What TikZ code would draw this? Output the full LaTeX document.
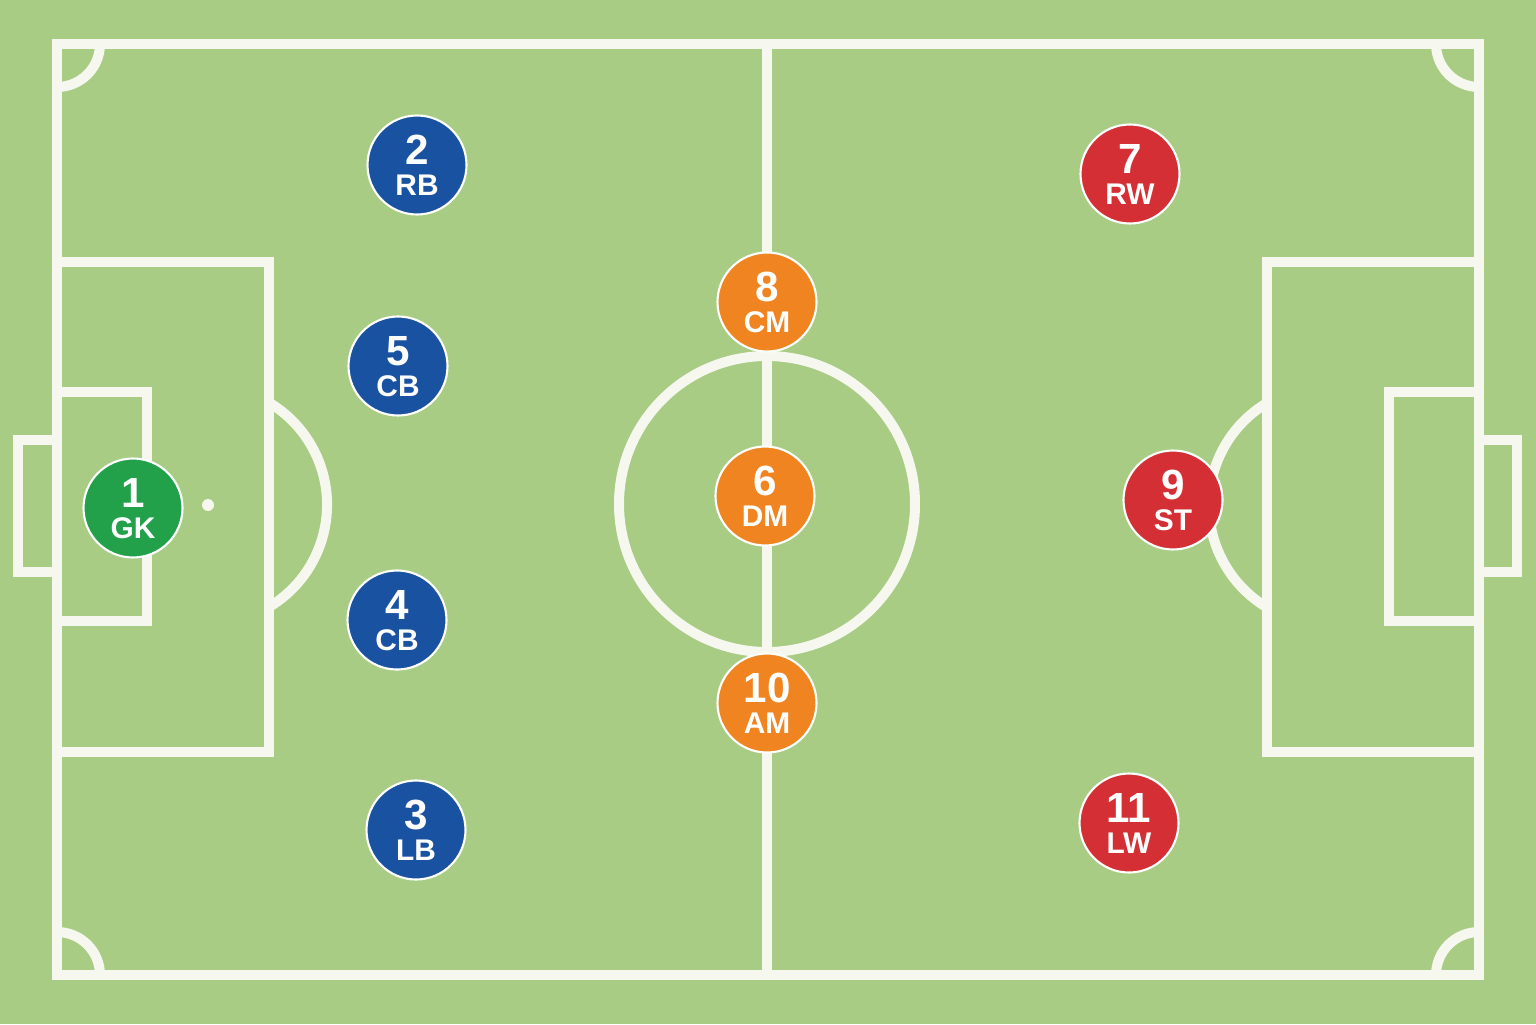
\documentclass[tikz,border=0pt]{standalone}
\usepackage{fontspec}
\setsansfont{Liberation Sans}
\usepackage{tikz}
\usetikzlibrary{positioning}
\usepackage{xcolor}
\definecolor{grass}{RGB}{168,204,132}
\definecolor{chalk}{RGB}{246,248,239}
\definecolor{keeper}{RGB}{34,160,74}
\definecolor{defblue}{RGB}{26,82,162}
\definecolor{midorange}{RGB}{240,132,32}
\definecolor{fwdred}{RGB}{212,47,52}

% one player: name, position, number, role, colour
\newcommand{\player}[5]{%
  \node[player,fill=#5] (#1) at (#2) {};
  \node[numtext] (#1-num) at ([yshift=0.15cm]#1.center) {#3};
  \node[roletext] (#1-role) at ([yshift=-0.20cm]#1.center) {#4};
}

\begin{document}
\begin{tikzpicture}[
    pitchline/.style={chalk,line width=0.1cm},
    player/.style={circle,draw=white,line width=0.6pt,minimum size=0.99cm,inner sep=0pt},
    numtext/.style={text=white,inner sep=0pt,font=\sffamily\bfseries\fontsize{12}{14}\selectfont},
    roletext/.style={text=white,inner sep=0pt,font=\sffamily\bfseries\fontsize{8.5}{10}\selectfont}
  ]
      \fill[grass](0,0)rectangle(15.36,10.24);
      \useasboundingbox(0,0)rectangle(15.36,10.24);
      % outline and halfway line
      \draw[pitchline](0.57,0.49)rectangle(14.79,9.80);
      \draw[pitchline](7.67,0.49)--(7.67,9.80);
      \draw[pitchline](7.67,5.20)circle[radius=1.48];
      % corners
      \draw[pitchline](1.00,9.80)arc(0:-90:0.43);
      \draw[pitchline](0.57,0.92)arc(90:0:0.43);
      \draw[pitchline](14.36,9.80)arc(180:270:0.43);
      \draw[pitchline](14.79,0.92)arc(90:180:0.43);
      % left end
      \draw[pitchline](0.57,2.72)rectangle(2.69,7.62);
      \draw[pitchline](0.57,4.03)rectangle(1.47,6.32);
      \draw[pitchline](0.57,4.52)--(0.18,4.52)--(0.18,5.84)--(0.57,5.84);
      \draw[pitchline](2.69,4.17)arc(-59.2:59.2:1.19);
      \fill[chalk](2.08,5.19)circle[radius=0.06];
      % right end
      \draw[pitchline](12.67,2.72)rectangle(14.79,7.62);
      \draw[pitchline](13.89,4.03)rectangle(14.79,6.32);
      \draw[pitchline](14.79,4.52)--(15.17,4.52)--(15.17,5.84)--(14.79,5.84);
      \draw[pitchline](12.67,6.21)arc(120.8:239.2:1.19);
      % players
      \player{gk}{1.33,5.16}{1}{GK}{keeper}
      \player{rb}{4.17,8.59}{2}{RB}{defblue}
      \player{rcb}{3.98,6.58}{5}{CB}{defblue}
      \player{lcb}{3.97,4.04}{4}{CB}{defblue}
      \player{lb}{4.16,1.94}{3}{LB}{defblue}
      \player{cm}{7.67,7.22}{8}{CM}{midorange}
      \player{dm}{7.65,5.28}{6}{DM}{midorange}
      \player{am}{7.67,3.21}{10}{AM}{midorange}
      \player{rw}{11.30,8.50}{7}{RW}{fwdred}
      \player{st}{11.73,5.24}{9}{ST}{fwdred}
      \player{lw}{11.29,2.01}{11}{LW}{fwdred}
    \end{tikzpicture}
\end{document}
